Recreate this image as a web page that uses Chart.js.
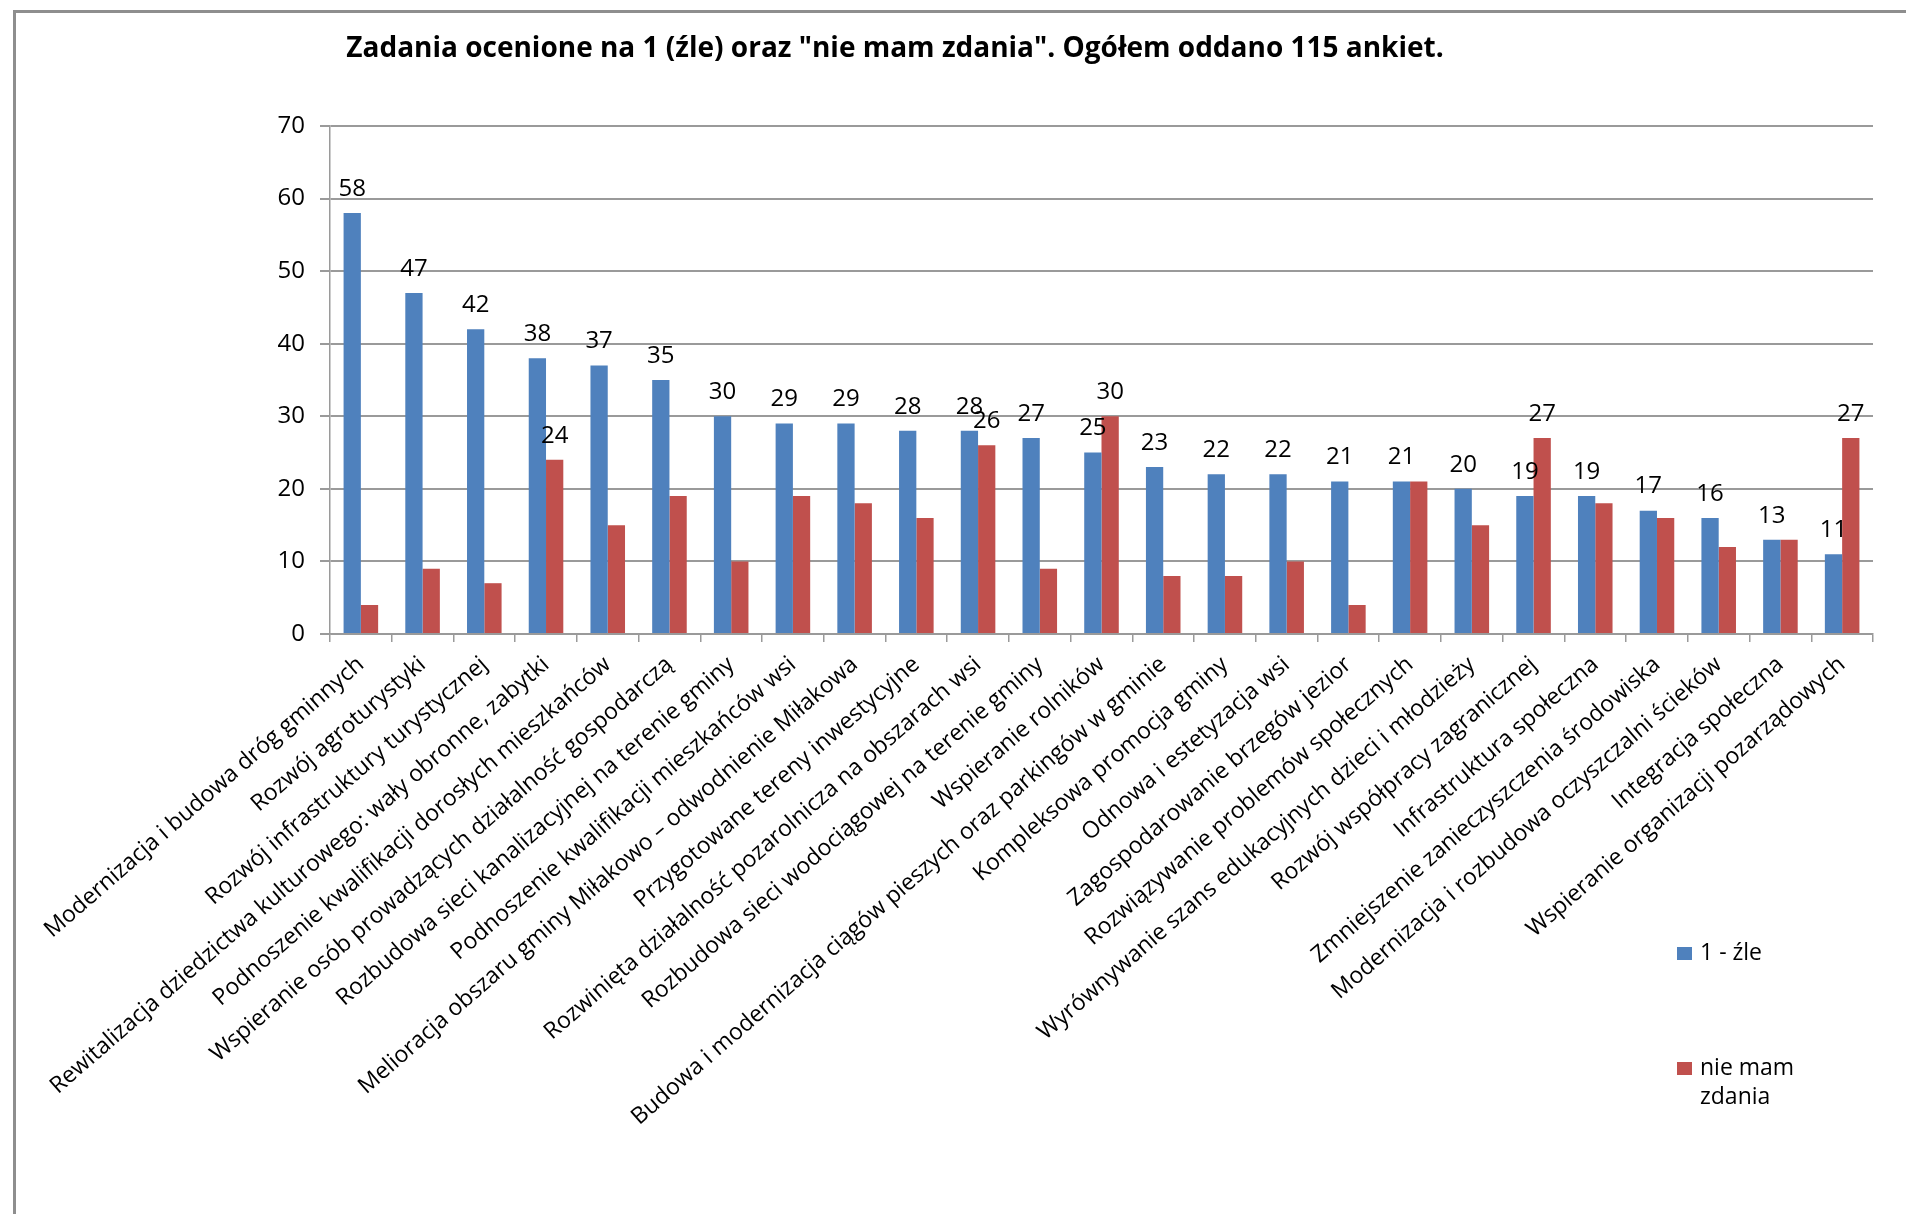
<!DOCTYPE html>
<html>
<head>
<meta charset="utf-8">
<script src="https://cdn.jsdelivr.net/npm/chart.js@4.4.0/dist/chart.umd.min.js"></script>
<style>
  html, body { margin: 0; padding: 0; background: #fff; overflow: hidden; }
  #wrap { position: relative; width: 1906px; height: 1214px; overflow: hidden; }
  #frame { position: absolute; left: 13px; top: 10px; right: -10px; bottom: -10px;
           border-left: 3px solid #8e8e8e; border-top: 3px solid #8e8e8e; }
  canvas { position: absolute; left: 0; top: 0; }
</style>
</head>
<body>
<div id="wrap">
  <div id="frame"></div>
  <canvas id="chart" width="1906" height="1214"></canvas>
</div>
<script>
const chartTitle = 'Zadania ocenione na 1 (źle) oraz "nie mam zdania". Ogółem oddano 115 ankiet.';

const categories = [
  'Modernizacja i budowa dróg gminnych',
  'Rozwój agroturystyki',
  'Rozwój infrastruktury turystycznej',
  'Rewitalizacja dziedzictwa kulturowego: wały obronne, zabytki',
  'Podnoszenie kwalifikacji dorosłych mieszkańców',
  'Wspieranie osób prowadzących działalność gospodarczą',
  'Rozbudowa sieci kanalizacyjnej na terenie gminy',
  'Podnoszenie kwalifikacji mieszkańców wsi',
  'Melioracja obszaru gminy Miłakowo – odwodnienie Miłakowa',
  'Przygotowane tereny inwestycyjne',
  'Rozwinięta działalność pozarolnicza na obszarach wsi',
  'Rozbudowa sieci wodociągowej na terenie gminy',
  'Wspieranie rolników',
  'Budowa i modernizacja ciągów pieszych oraz parkingów w gminie',
  'Kompleksowa promocja gminy',
  'Odnowa i estetyzacja wsi',
  'Zagospodarowanie brzegów jezior',
  'Rozwiązywanie problemów społecznych',
  'Wyrównywanie szans edukacyjnych dzieci i młodzieży',
  'Rozwój współpracy zagranicznej',
  'Infrastruktura społeczna',
  'Zmniejszenie zanieczyszczenia środowiska',
  'Modernizacja i rozbudowa oczyszczalni ścieków',
  'Integracja społeczna',
  'Wspieranie organizacji pozarządowych'
];

const seriesNames = ['1 - źle', 'nie mam zdania'];
const badValues = [58, 47, 42, 38, 37, 35, 30, 29, 29, 28, 28, 27, 25, 23, 22, 22, 21, 21, 20, 19, 19, 17, 16, 13, 11];
const noOpinionValues = [4, 9, 7, 24, 15, 19, 10, 19, 18, 16, 26, 9, 30, 8, 8, 10, 4, 21, 15, 27, 18, 16, 12, 13, 27];
// only these "nie mam zdania" bars carry a value label in the original
const noOpinionLabelled = [3, 10, 12, 19, 24];
const yMax = 70;
const yStep = 10;

const blue = '#4f81bd';
const red = '#c0504d';
const gridGray = '#9a9a9a';
const font = '"Open Sans", sans-serif';

Chart.defaults.font.family = font;
Chart.defaults.color = '#000';

const titlePlugin = {
  id: 'titlePlugin',
  afterDraw(chart) {
    const ctx = chart.ctx;
    ctx.save();
    ctx.font = 'bold 28px ' + font;
    ctx.fillStyle = '#000';
    ctx.textAlign = 'center';
    ctx.textBaseline = 'middle';
    ctx.fillText(chartTitle, 895, 49);
    ctx.restore();
  }
};

const valueLabels = {
  id: 'valueLabels',
  afterDatasetsDraw(chart) {
    const ctx = chart.ctx;
    ctx.save();
    ctx.font = '24px ' + font;
    ctx.fillStyle = '#000';
    ctx.textAlign = 'center';
    ctx.textBaseline = 'middle';
    chart.getDatasetMeta(0).data.forEach((bar, i) => {
      ctx.fillText(String(badValues[i]), bar.x, bar.y - 24);
    });
    noOpinionLabelled.forEach((i) => {
      const bar = chart.getDatasetMeta(1).data[i];
      ctx.fillText(String(noOpinionValues[i]), bar.x, bar.y - 24);
    });
    ctx.restore();
  }
};

function wrapWords(ctx, text, maxWidth) {
  const lines = [];
  let line = '';
  text.split(' ').forEach((w) => {
    const test = line ? line + ' ' + w : w;
    if (line && ctx.measureText(test).width > maxWidth) {
      lines.push(line);
      line = w;
    } else {
      line = test;
    }
  });
  lines.push(line);
  return lines;
}

const sideLegend = {
  id: 'sideLegend',
  afterDraw(chart) {
    const ctx = chart.ctx;
    const x = 1677;
    const tops = [947, 1062];
    ctx.save();
    ctx.font = '23px ' + font;
    ctx.textBaseline = 'middle';
    ctx.textAlign = 'left';
    chart.data.datasets.forEach((ds, i) => {
      ctx.fillStyle = ds.backgroundColor;
      ctx.fillRect(x, tops[i], 15, 13);
      ctx.fillStyle = '#000';
      wrapWords(ctx, ds.label, 115).forEach((ln, j) => {
        ctx.fillText(ln, x + 23, tops[i] + 6 + j * 29);
      });
    });
    ctx.restore();
  }
};

new Chart(document.getElementById('chart'), {
  type: 'bar',
  data: {
    labels: categories,
    datasets: [
      { label: seriesNames[0], data: badValues, backgroundColor: blue },
      { label: seriesNames[1], data: noOpinionValues, backgroundColor: red }
    ]
  },
  options: {
    responsive: false,
    devicePixelRatio: 1,
    animation: false,
    layout: { padding: { left: 0, top: 126, right: 33, bottom: 0 } },
    datasets: {
      bar: { categoryPercentage: 0.56, barPercentage: 1.0 }
    },
    scales: {
      x: {
        afterFit: (scale) => { scale.height = 580; },
        grid: {
          offset: true,
          drawOnChartArea: false,
          drawTicks: true,
          tickLength: 8,
          color: gridGray,
          lineWidth: 1.5
        },
        border: { display: true, color: gridGray, width: 1.5 },
        ticks: {
          autoSkip: false,
          maxRotation: 41,
          minRotation: 41,
          padding: 9,
          color: '#000',
          font: { size: 23 }
        }
      },
      y: {
        min: 0,
        max: yMax,
        afterFit: (scale) => { scale.width = 330; },
        grid: {
          color: gridGray,
          lineWidth: 2,
          tickLength: 10
        },
        border: { display: true, color: gridGray, width: 1.5 },
        ticks: {
          stepSize: yStep,
          padding: 15,
          color: '#000',
          font: { size: 24 }
        }
      }
    },
    plugins: {
      legend: { display: false },
      title: { display: false },
      tooltip: { enabled: false }
    }
  },
  plugins: [valueLabels, titlePlugin, sideLegend]
});
</script>
</body>
</html>
